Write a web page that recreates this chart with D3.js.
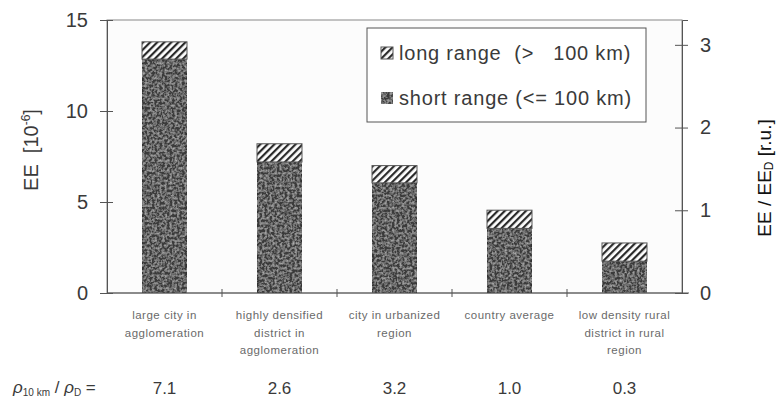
<!DOCTYPE html>
<html>
<head>
<meta charset="utf-8">
<script src="https://cdn.jsdelivr.net/npm/d3@7"></script>
<style>
  body { margin: 0; background: #fff; }
  svg { display: block; font-family: "Liberation Sans", Arial, sans-serif; }
</style>
</head>
<body>
<div id="chart"></div>
<script>
// ---------- DATA ----------
var categories = [
  ["large city in", "agglomeration"],
  ["highly densified", "district in", "agglomeration"],
  ["city in urbanized", "region"],
  ["country average"],
  ["low density rural", "district in rural", "region"]
];
var shortRange = [12.85, 7.2, 6.05, 3.55, 1.75];
var longRange = [0.95, 1.0, 0.95, 1.0, 1.0];
var densityRatio = ["7.1", "2.6", "3.2", "1.0", "0.3"];
var leftTicks = [0, 5, 10, 15];
var rightTicks = [0, 1, 2, 3];

// ---------- LAYOUT ----------
var W = 779, H = 397;
var plotL = 107, plotR = 682, plotT = 20, plotB = 293;

var svg = d3.select('#chart').append('svg')
    .attr('width', W)
    .attr('height', H);

var defs = svg.append('defs');

// diagonal hatch for long range
var hatch = defs.append('pattern')
    .attr('id', 'hatch')
    .attr('patternUnits', 'userSpaceOnUse')
    .attr('width', 5).attr('height', 5)
    .attr('patternTransform', 'rotate(45)');
hatch.append('rect').attr('width', 5).attr('height', 5).attr('fill', '#fff');
hatch.append('rect').attr('width', 2.2).attr('height', 5).attr('fill', '#2a2a2a');

// stippled grey texture for short range
var grain = defs.append('filter').attr('id', 'grain')
    .attr('x', 0).attr('y', 0).attr('width', 1).attr('height', 1);
grain.append('feTurbulence')
    .attr('type', 'fractalNoise')
    .attr('baseFrequency', 0.4)
    .attr('numOctaves', 2)
    .attr('seed', 7)
    .attr('result', 'noise');
grain.append('feColorMatrix')
    .attr('in', 'noise')
    .attr('type', 'matrix')
    .attr('values', '0 0 0 0 0.5  0 0 0 0 0.5  0 0 0 0 0.5  0 0 0 1.6 -0.6')
    .attr('result', 'specks');
grain.append('feComposite')
    .attr('in', 'specks').attr('in2', 'SourceGraphic')
    .attr('operator', 'in').attr('result', 'clipped');
grain.append('feMerge').call(function(m) {
    m.append('feMergeNode').attr('in', 'SourceGraphic');
    m.append('feMergeNode').attr('in', 'clipped');
});

var x = d3.scaleBand()
    .domain(d3.range(categories.length))
    .range([plotL, plotR])
    .paddingInner(0)
    .paddingOuter(0);

var y = d3.scaleLinear().domain([0, 15]).range([plotB, plotT]);
var y2 = d3.scaleLinear().domain([0, 15 / 4.545]).range([plotB, plotT]);

var axisColor = '#555';
var textColor = '#3a3a3a';

// frame
svg.append('rect')
    .attr('x', plotL).attr('y', plotT)
    .attr('width', plotR - plotL).attr('height', plotB - plotT)
    .attr('fill', '#fcfcfc')
    .attr('stroke', '#888')
    .attr('stroke-width', 1);

// bars
var barW = 45;
var bars = svg.append('g');
bars.selectAll('rect.short')
    .data(shortRange)
    .enter()
    .append('rect')
        .attr('class', 'short')
        .attr('x', function(d, i) { return x(i) + (x.bandwidth() - barW) / 2; })
        .attr('y', function(d) { return y(d); })
        .attr('width', barW)
        .attr('height', function(d) { return y(0) - y(d); })
        .attr('fill', '#3a3a3a')
        .attr('filter', 'url(#grain)')
        .attr('stroke', '#262626')
        .attr('stroke-width', 1);

bars.selectAll('rect.long')
    .data(longRange)
    .enter()
    .append('rect')
        .attr('class', 'long')
        .attr('x', function(d, i) { return x(i) + (x.bandwidth() - barW) / 2; })
        .attr('y', function(d, i) { return y(shortRange[i] + d); })
        .attr('width', barW)
        .attr('height', function(d, i) { return y(shortRange[i]) - y(shortRange[i] + d); })
        .attr('fill', 'url(#hatch)')
        .attr('stroke', '#555')
        .attr('stroke-width', 1);

// left axis
var gl = svg.append('g')
    .attr('transform', 'translate(' + plotL + ',0)')
    .call(d3.axisLeft(y).tickValues(leftTicks).tickSize(7).tickPadding(12));
gl.selectAll('.tick line').attr('x2', 6).attr('x1', -7);
gl.selectAll('.tick text')
    .attr('font-size', 20).attr('fill', textColor)
    .attr('font-family', '"Liberation Sans", Arial, sans-serif');

// right axis
var gr = svg.append('g')
    .attr('transform', 'translate(' + plotR + ',0)')
    .call(d3.axisRight(y2).tickValues(rightTicks).tickFormat(d3.format('d')).tickSize(6).tickPadding(12));
gr.selectAll('.tick line').attr('x1', -7).attr('x2', 6);
gr.selectAll('.tick text')
    .attr('font-size', 20).attr('fill', textColor)
    .attr('font-family', '"Liberation Sans", Arial, sans-serif');

// bottom axis (category boundaries)
var gb = svg.append('g')
    .attr('transform', 'translate(0,' + plotB + ')');
gb.append('line')
    .attr('x1', plotL).attr('x2', plotR + 7)
    .attr('stroke', axisColor);
gb.selectAll('line.tk')
    .data(d3.range(1, categories.length))
    .enter()
    .append('line')
        .attr('class', 'tk')
        .attr('x1', function(d) { return x(d); })
        .attr('x2', function(d) { return x(d); })
        .attr('y1', -4).attr('y2', 4)
        .attr('stroke', axisColor);

[gl, gr].forEach(function(g) {
    g.select('.domain').attr('stroke', axisColor);
    g.selectAll('.tick line').attr('stroke', axisColor);
});

// category labels
var cat = svg.append('g');
categories.forEach(function(lines, i) {
    var t = cat.append('text')
        .attr('x', x(i) + x.bandwidth() / 2)
        .attr('y', 319)
        .attr('text-anchor', 'middle')
        .attr('font-size', 11.5)
        .attr('letter-spacing', 0.5)
        .attr('fill', '#6a6a6a');
    lines.forEach(function(s, j) {
        t.append('tspan')
            .attr('x', x(i) + x.bandwidth() / 2)
            .attr('dy', j == 0 ? 0 : 17.5)
            .text(s);
    });
});

// density ratio row
svg.append('text')
    .attr('x', 13).attr('y', 393)
    .attr('font-size', 17).attr('fill', textColor)
    .call(function(t) {
        t.append('tspan').attr('font-style', 'italic').text('ρ');
        t.append('tspan').attr('font-size', 10).attr('dy', 3).text('10 km');
        t.append('tspan').attr('dy', -3).text(' / ');
        t.append('tspan').attr('font-style', 'italic').text('ρ');
        t.append('tspan').attr('font-size', 10).attr('dy', 3).text('D');
        t.append('tspan').attr('dy', -3).text(' =');
    });
svg.selectAll('text.ratio')
    .data(densityRatio)
    .enter()
    .append('text')
        .attr('class', 'ratio')
        .attr('x', function(d, i) { return x(i) + x.bandwidth() / 2; })
        .attr('y', 394)
        .attr('text-anchor', 'middle')
        .attr('font-size', 17)
        .attr('fill', textColor)
        .text(function(d) { return d; });

// axis titles
svg.append('text')
    .attr('transform', 'translate(38,150) rotate(-90)')
    .attr('text-anchor', 'middle')
    .attr('font-size', 20).attr('fill', textColor)
    .style('white-space', 'pre')
    .call(function(t) {
        t.append('tspan').text('EE  [10');
        t.append('tspan').attr('font-size', 12).attr('dy', -8).text('-6');
        t.append('tspan').attr('dy', 8).text(']');
    });

svg.append('text')
    .attr('transform', 'translate(771,178) rotate(-90)')
    .attr('text-anchor', 'middle')
    .attr('font-size', 19).attr('fill', '#111')
    .call(function(t) {
        t.append('tspan').text('EE / EE');
        t.append('tspan').attr('font-size', 12).attr('dy', 2).text('D');
        t.append('tspan').attr('dy', -2).text(' [r.u.]');
    });

// legend
var lg = svg.append('g');
lg.append('rect')
    .attr('x', 367).attr('y', 28)
    .attr('width', 279).attr('height', 94)
    .attr('fill', '#fff')
    .attr('stroke', '#555');
var legendItems = [
    {label: 'long range  (>   100 km)', fill: 'url(#hatch)', filter: null},
    {label: 'short range (<= 100 km)', fill: '#3a3a3a', filter: 'url(#grain)'}
];
legendItems.forEach(function(d, i) {
    var yy = 47 + i * 45;
    lg.append('rect')
        .attr('x', 381).attr('y', yy)
        .attr('width', 12).attr('height', 12)
        .attr('fill', d.fill)
        .attr('filter', d.filter)
        .attr('stroke', '#555');
    lg.append('text')
        .attr('x', 399).attr('y', yy + 13)
        .attr('font-size', 20)
        .attr('letter-spacing', 0.8)
        .attr('fill', textColor)
        .style('white-space', 'pre')
        .text(d.label);
});
</script>
</body>
</html>
